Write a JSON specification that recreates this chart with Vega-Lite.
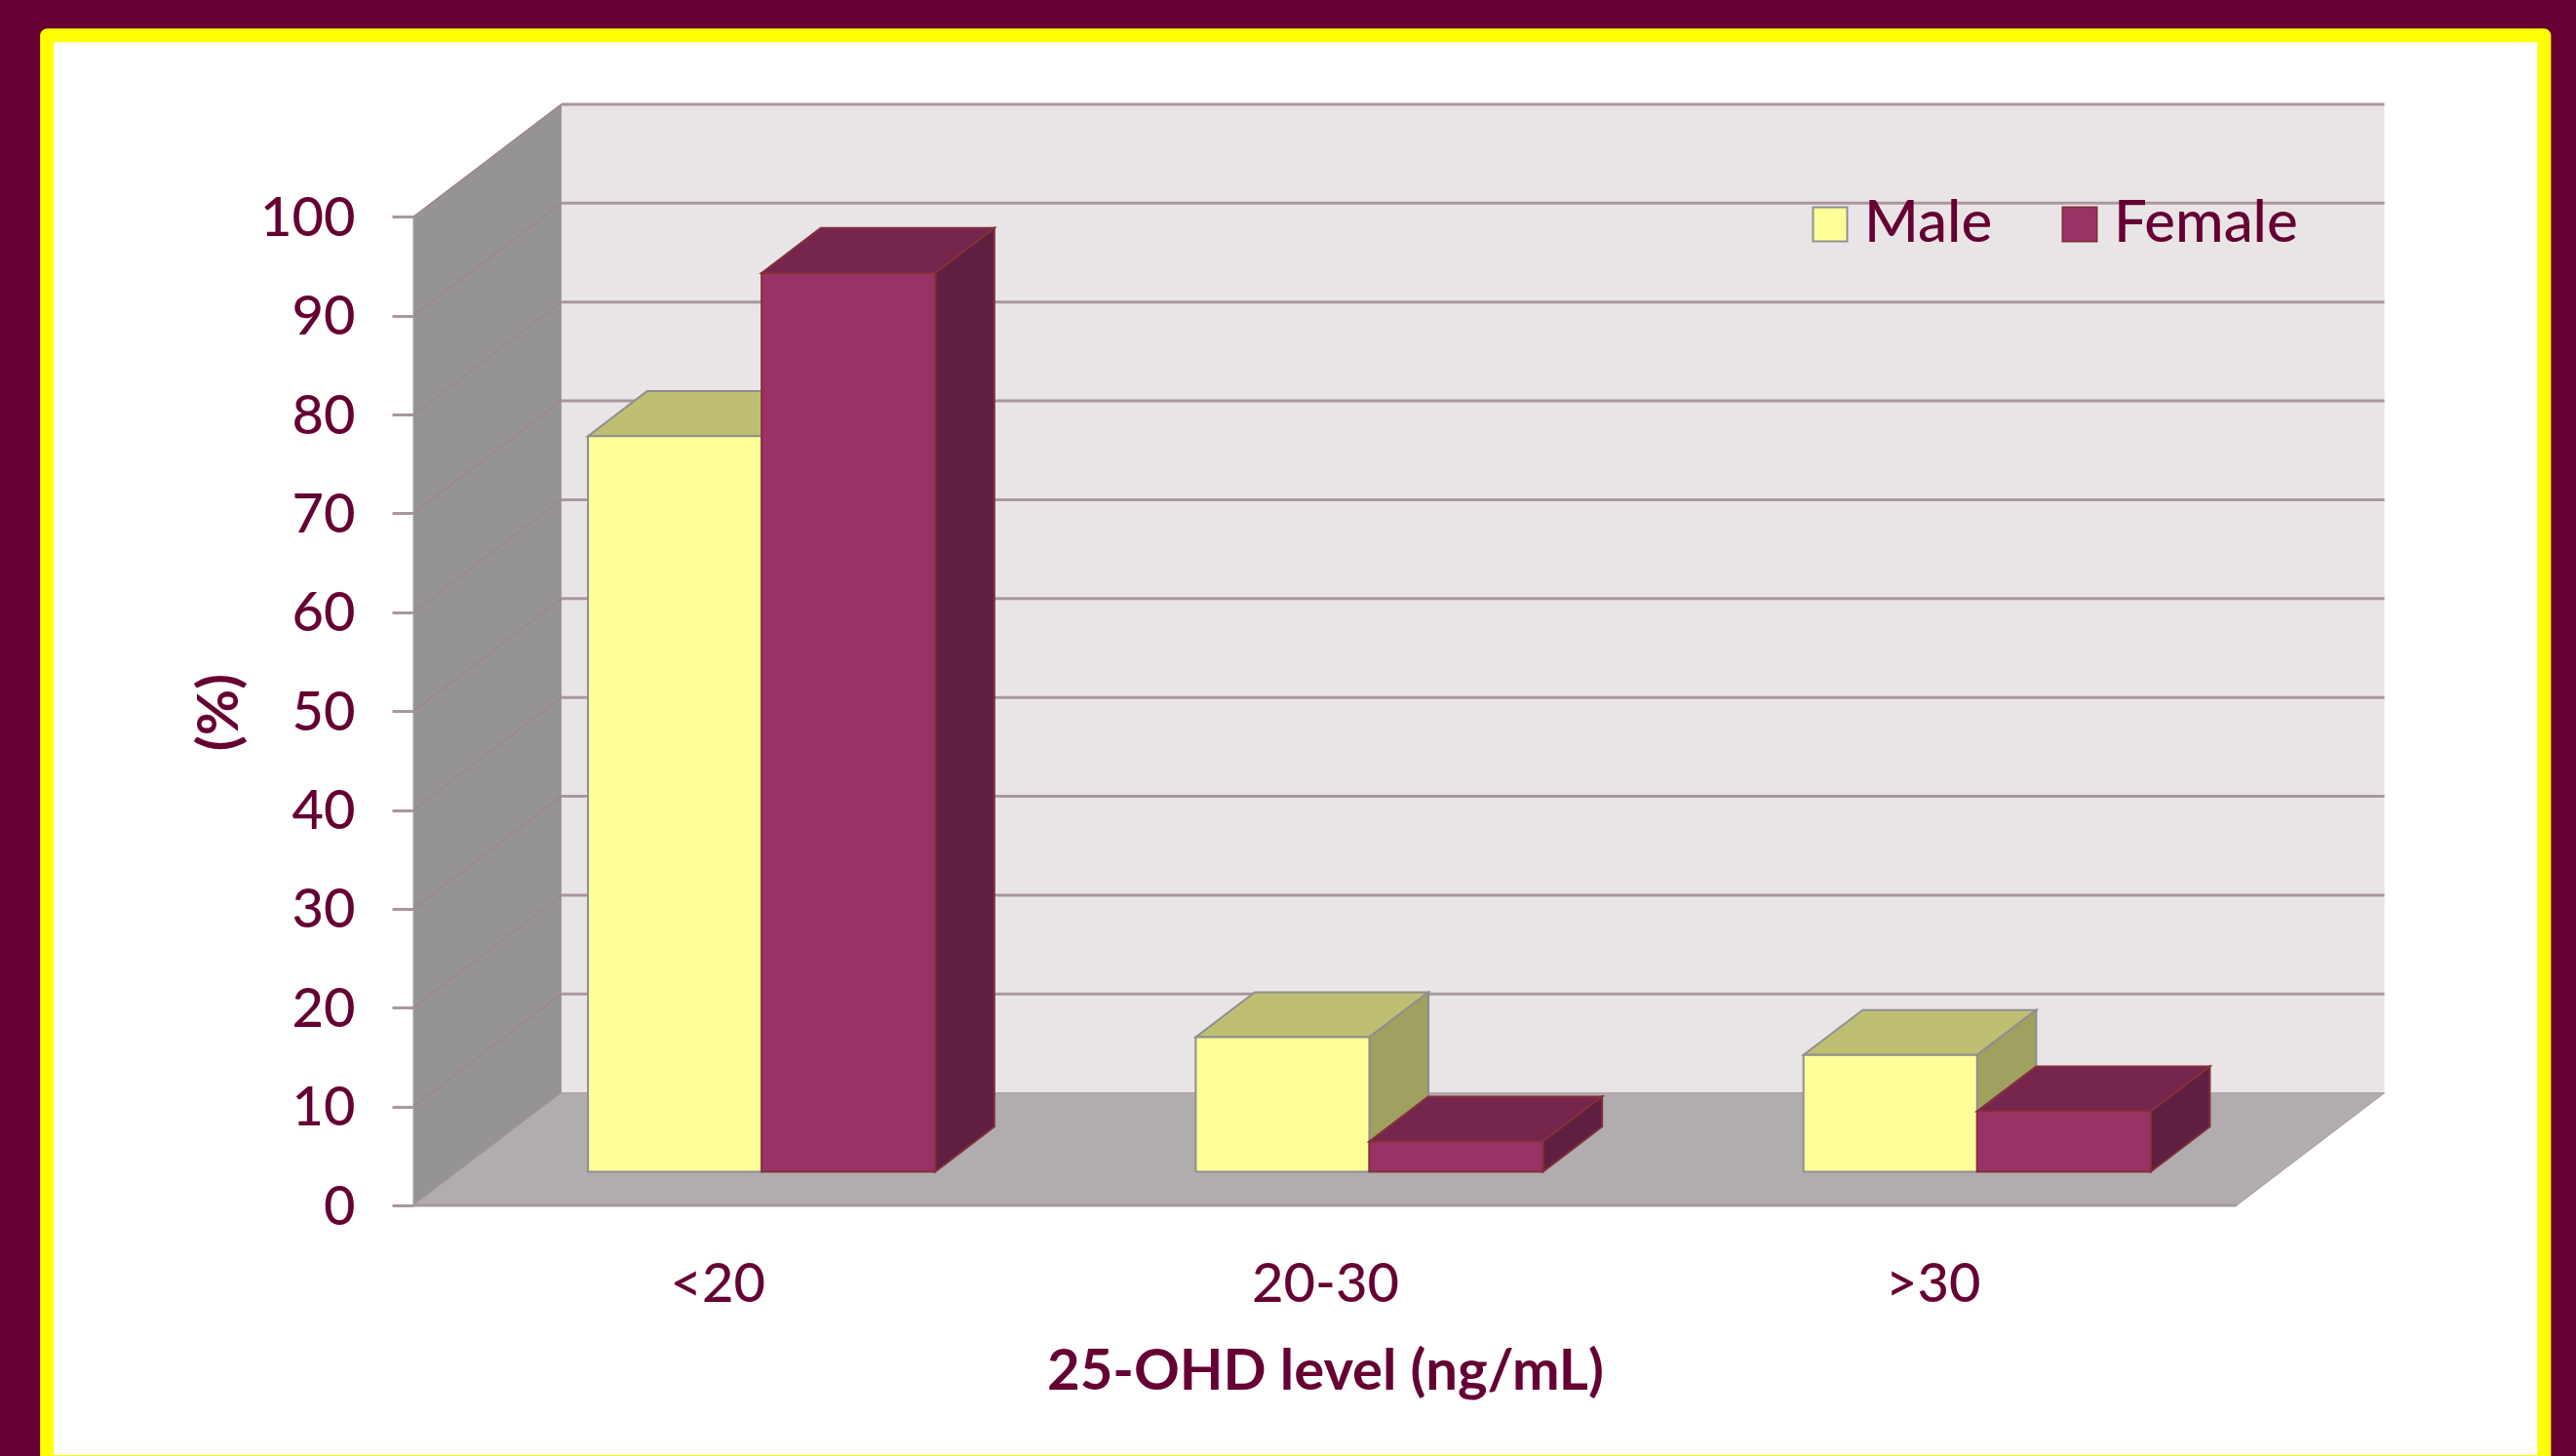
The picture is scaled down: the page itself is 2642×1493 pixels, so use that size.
{
  "$schema": "https://vega.github.io/schema/vega-lite/v6.json",
  "background": "#660033",
  "autosize": {"type": "none"},
  "padding": {"left": 424, "top": 107, "right": 196, "bottom": 257},
  "width": 2022,
  "height": 1129,
  "params": [
    {"name": "depthX", "value": 0.2431},
    {"name": "depthY", "value": 11.37},
    {"name": "barW", "value": 0.2857}
  ],
  "config": {
    "view": {"stroke": null},
    "font": "Lato",
    "axis": {"labelFont": "Lato", "titleFont": "Lato", "labelColor": "#660033", "titleColor": "#660033", "grid": false}
  },
  "datasets": {
    "ticks": [{"tick": 10}, {"tick": 20}, {"tick": 30}, {"tick": 40}, {"tick": 50}, {"tick": 60}, {"tick": 70}, {"tick": 80}, {"tick": 90}, {"tick": 100}]
  },
  "data": {
    "values": [
      {"level": "<20", "sex": "Male", "value": 74.4},
      {"level": "<20", "sex": "Female", "value": 90.9},
      {"level": "20-30", "sex": "Male", "value": 13.6},
      {"level": "20-30", "sex": "Female", "value": 3.05},
      {"level": ">30", "sex": "Male", "value": 11.8},
      {"level": ">30", "sex": "Female", "value": 6.1}
    ]
  },
  "transform": [
    {"calculate": "indexof(['<20','20-30','>30'], datum.level)", "as": "slot"},
    {"calculate": "datum.slot + 0.5 + 0.3 * depthX + (datum.sex === 'Male' ? -barW : 0)", "as": "xL"},
    {"calculate": "datum.xL + barW", "as": "xR"},
    {"calculate": "0.3 * depthY", "as": "yB"},
    {"calculate": "datum.yB + datum.value", "as": "yT"},
    {"calculate": "[0, 1]", "as": "s"},
    {"flatten": ["s"]},
    {"calculate": "datum.s * 0.4 * depthX", "as": "shiftX"},
    {"calculate": "datum.s * 0.4 * depthY", "as": "shiftY"},
    {"calculate": "datum.xL + datum.shiftX", "as": "topL"},
    {"calculate": "datum.xR + datum.shiftX", "as": "topR"},
    {"calculate": "datum.yT + datum.shiftY", "as": "topY"},
    {"calculate": "datum.xR + datum.shiftX", "as": "sideX"},
    {"calculate": "datum.yB + datum.shiftY", "as": "sideLow"}
  ],
  "layer": [
    {
      "data": {"values": [{"part": "slide frame"}]},
      "mark": {"type": "rect", "fill": "#ffffff", "stroke": "#ffff00", "strokeWidth": 14, "strokeJoin": "round"},
      "encoding": {
        "x": {"datum": -0.603, "type": "quantitative", "title": "25-OHD level (ng/mL)", "scale": {"domain": [0, 3.2439], "nice": false, "zero": false},
          "axis": {"values": [0.5, 1.5, 2.5], "labelExpr": "datum.value == 0.5 ? '<20' : datum.value == 1.5 ? '20-30' : '>30'", "ticks": false, "domain": false, "zindex": 1, "labelFontSize": 56, "labelFontWeight": 500, "labelPadding": 54, "labelFlush": false, "title": "25-OHD level (ng/mL)", "titleFontSize": 58, "titleFontWeight": "bold", "titleX": 935, "titleY": 171, "titleBaseline": "middle", "titleAlign": "center"}},
        "x2": {"datum": 3.506},
        "y": {"datum": -25.94, "type": "quantitative", "title": "(%)", "scale": {"domain": [0, 111.37], "nice": false, "zero": false},
          "axis": {"values": [0, 10, 20, 30, 40, 50, 60, 70, 80, 90, 100], "tickSize": 22, "tickColor": "#a8979f", "tickWidth": 3, "domain": false, "zindex": 1, "labelFontSize": 56, "labelFontWeight": 500, "labelPadding": 38, "labelOffset": 2, "labelFlush": false, "title": "(%)", "titleFontSize": 58, "titleFontWeight": "bold", "titleAngle": -90, "titleX": -198, "titleY": 623, "titleAlign": "center", "titleBaseline": "middle"}},
        "y2": {"datum": 118.34}
      }
    },
    {
      "data": {"values": [{"part": "back wall"}]},
      "transform": [
        {"calculate": "depthX", "as": "x0"}, {"calculate": "3 + depthX", "as": "x1"},
        {"calculate": "depthY", "as": "y0"}, {"calculate": "100 + depthY", "as": "y1"}
      ],
      "mark": {"type": "rect", "fill": "#e9e5e7"},
      "encoding": {
        "x": {"field": "x0", "type": "quantitative", "title": "25-OHD level (ng/mL)", "scale": {"domain": [0, 3.2439], "nice": false, "zero": false}},
        "x2": {"field": "x1"},
        "y": {"field": "y0", "type": "quantitative", "title": "(%)", "scale": {"domain": [0, 111.37], "nice": false, "zero": false}},
        "y2": {"field": "y1"}
      }
    },
    {
      "data": {"values": [{"part": "side wall"}]},
      "transform": [
        {"calculate": "[0, 1]", "as": "s"}, {"flatten": ["s"]},
        {"calculate": "datum.s * depthX", "as": "x0"},
        {"calculate": "datum.s * depthY", "as": "y0"},
        {"calculate": "100 + datum.s * depthY", "as": "y1"}
      ],
      "mark": {"type": "area", "fill": "#969394", "stroke": "#a8979f", "strokeWidth": 1},
      "encoding": {
        "x": {"field": "x0", "type": "quantitative", "title": "25-OHD level (ng/mL)", "scale": {"domain": [0, 3.2439], "nice": false, "zero": false}},
        "y": {"field": "y0", "type": "quantitative", "title": "(%)", "scale": {"domain": [0, 111.37], "nice": false, "zero": false}},
        "y2": {"field": "y1"}
      }
    },
    {
      "data": {"values": [{"part": "floor"}]},
      "transform": [
        {"calculate": "[0, 1]", "as": "s"}, {"flatten": ["s"]},
        {"calculate": "datum.s * depthX", "as": "x0"},
        {"calculate": "3 + datum.s * depthX", "as": "x1"},
        {"calculate": "datum.s * depthY", "as": "y0"}
      ],
      "mark": {"type": "area", "orient": "horizontal", "fill": "#b1adaf", "stroke": "#a8979f", "strokeWidth": 1},
      "encoding": {
        "y": {"field": "y0", "type": "quantitative", "title": "(%)", "scale": {"domain": [0, 111.37], "nice": false, "zero": false}},
        "x": {"field": "x0", "type": "quantitative", "title": "25-OHD level (ng/mL)", "scale": {"domain": [0, 3.2439], "nice": false, "zero": false}},
        "x2": {"field": "x1"}
      }
    },
    {
      "data": {"name": "ticks"},
      "transform": [
        {"calculate": "depthX", "as": "x0"}, {"calculate": "3 + depthX", "as": "x1"},
        {"calculate": "datum.tick + depthY", "as": "y0"}
      ],
      "mark": {"type": "rule", "stroke": "#a8979f", "strokeWidth": 3},
      "encoding": {
        "x": {"field": "x0", "type": "quantitative", "title": "25-OHD level (ng/mL)", "scale": {"domain": [0, 3.2439], "nice": false, "zero": false}},
        "x2": {"field": "x1"},
        "y": {"field": "y0", "type": "quantitative", "title": "(%)", "scale": {"domain": [0, 111.37], "nice": false, "zero": false}}
      }
    },
    {
      "data": {"name": "ticks"},
      "transform": [
        {"calculate": "0", "as": "x0"},
        {"calculate": "depthX", "as": "x1"},
        {"calculate": "datum.tick + depthY", "as": "y1"}
      ],
      "mark": {"type": "rule", "stroke": "#a08490", "strokeWidth": 1.5},
      "encoding": {
        "x": {"field": "x0", "type": "quantitative", "title": "25-OHD level (ng/mL)", "scale": {"domain": [0, 3.2439], "nice": false, "zero": false}},
        "x2": {"field": "x1"},
        "y": {"field": "tick", "type": "quantitative", "title": "(%)", "scale": {"domain": [0, 111.37], "nice": false, "zero": false}},
        "y2": {"field": "y1"}
      }
    },
    {
      "data": {"values": [{"part": "floor edge"}]},
      "mark": {"type": "rule", "stroke": "#a8979f", "strokeWidth": 3},
      "encoding": {
        "x": {"datum": 0, "type": "quantitative", "title": "25-OHD level (ng/mL)", "scale": {"domain": [0, 3.2439], "nice": false, "zero": false}},
        "x2": {"datum": 3},
        "y": {"datum": 0, "type": "quantitative", "title": "(%)", "scale": {"domain": [0, 111.37], "nice": false, "zero": false}}
      }
    },
    {
      "transform": [{"filter": "datum.sex === 'Male'"}],
      "mark": {"type": "area", "orient": "horizontal", "fill": "#bfbf73", "stroke": "#8f8f8f", "strokeWidth": 2},
      "encoding": {
        "detail": {"field": "level"},
        "y": {"field": "topY", "type": "quantitative", "title": "(%)", "scale": {"domain": [0, 111.37], "nice": false, "zero": false}},
        "x": {"field": "topL", "type": "quantitative", "title": "25-OHD level (ng/mL)", "scale": {"domain": [0, 3.2439], "nice": false, "zero": false}},
        "x2": {"field": "topR"}
      }
    },
    {
      "transform": [{"filter": "datum.sex === 'Male'"}],
      "mark": {"type": "area", "fill": "#a0a060", "stroke": "#8f8f8f", "strokeWidth": 2},
      "encoding": {
        "detail": {"field": "level"},
        "x": {"field": "sideX", "type": "quantitative", "title": "25-OHD level (ng/mL)", "scale": {"domain": [0, 3.2439], "nice": false, "zero": false}},
        "y": {"field": "sideLow", "type": "quantitative", "title": "(%)", "scale": {"domain": [0, 111.37], "nice": false, "zero": false}},
        "y2": {"field": "topY"}
      }
    },
    {
      "transform": [{"filter": "datum.sex === 'Male' && datum.s === 0"}],
      "mark": {"type": "rect", "strokeWidth": 2},
      "encoding": {
        "x": {"field": "xL", "type": "quantitative", "title": "25-OHD level (ng/mL)", "scale": {"domain": [0, 3.2439], "nice": false, "zero": false}},
        "x2": {"field": "xR"},
        "y": {"field": "yB", "type": "quantitative", "title": "(%)", "scale": {"domain": [0, 111.37], "nice": false, "zero": false}},
        "y2": {"field": "yT"},
        "fill": {"field": "sex", "type": "nominal",
          "scale": {"domain": ["Male", "Female"], "range": ["#ffff99", "#993366"]},
          "legend": {"title": null, "orient": "none", "legendX": 1423, "legendY": 93, "direction": "horizontal", "columns": 2, "symbolType": "square", "symbolSize": 1225, "symbolStrokeWidth": 2, "labelFont": "Lato", "labelFontSize": 60, "labelFontWeight": 500, "labelColor": "#660033", "labelOffset": 5, "labelLimit": 400, "columnPadding": 59, "padding": 0}},
        "stroke": {"field": "sex", "type": "nominal",
          "scale": {"domain": ["Male", "Female"], "range": ["#8f8f8f", "#84303a"]}}
      }
    },
    {
      "transform": [{"filter": "datum.sex === 'Female'"}],
      "mark": {"type": "area", "orient": "horizontal", "fill": "#76264d", "stroke": "#84303a", "strokeWidth": 2},
      "encoding": {
        "detail": {"field": "level"},
        "y": {"field": "topY", "type": "quantitative", "title": "(%)", "scale": {"domain": [0, 111.37], "nice": false, "zero": false}},
        "x": {"field": "topL", "type": "quantitative", "title": "25-OHD level (ng/mL)", "scale": {"domain": [0, 3.2439], "nice": false, "zero": false}},
        "x2": {"field": "topR"}
      }
    },
    {
      "transform": [{"filter": "datum.sex === 'Female'"}],
      "mark": {"type": "area", "fill": "#5f1f40", "stroke": "#84303a", "strokeWidth": 2},
      "encoding": {
        "detail": {"field": "level"},
        "x": {"field": "sideX", "type": "quantitative", "title": "25-OHD level (ng/mL)", "scale": {"domain": [0, 3.2439], "nice": false, "zero": false}},
        "y": {"field": "sideLow", "type": "quantitative", "title": "(%)", "scale": {"domain": [0, 111.37], "nice": false, "zero": false}},
        "y2": {"field": "topY"}
      }
    },
    {
      "transform": [{"filter": "datum.sex === 'Female' && datum.s === 0"}],
      "mark": {"type": "rect", "strokeWidth": 2},
      "encoding": {
        "x": {"field": "xL", "type": "quantitative", "title": "25-OHD level (ng/mL)", "scale": {"domain": [0, 3.2439], "nice": false, "zero": false}},
        "x2": {"field": "xR"},
        "y": {"field": "yB", "type": "quantitative", "title": "(%)", "scale": {"domain": [0, 111.37], "nice": false, "zero": false}},
        "y2": {"field": "yT"},
        "fill": {"field": "sex", "type": "nominal",
          "scale": {"domain": ["Male", "Female"], "range": ["#ffff99", "#993366"]}},
        "stroke": {"field": "sex", "type": "nominal",
          "scale": {"domain": ["Male", "Female"], "range": ["#8f8f8f", "#84303a"]}}
      }
    }
  ]
}
